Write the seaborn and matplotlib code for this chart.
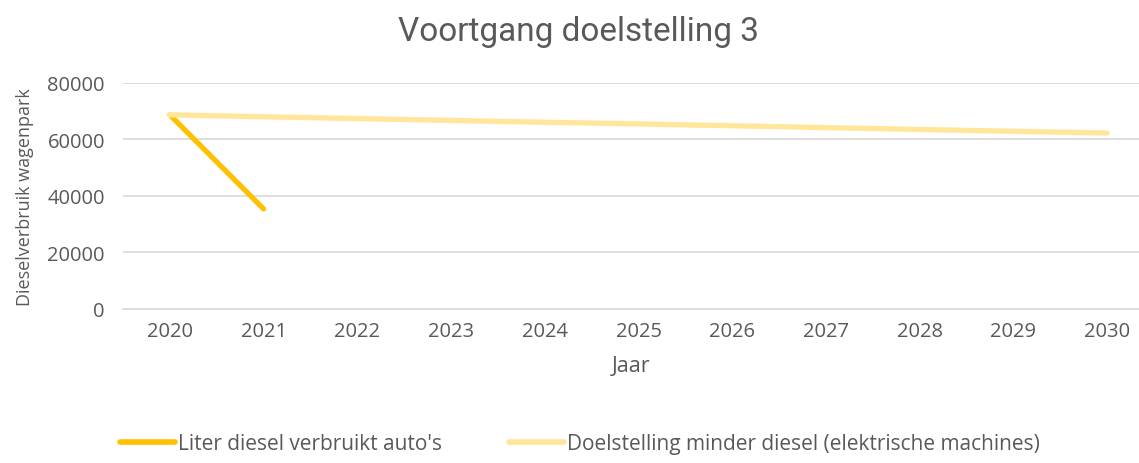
import pandas as pd
import matplotlib.pyplot as plt
import seaborn as sns

# data
years = [2020, 2021, 2022, 2023, 2024, 2025, 2026, 2027, 2028, 2029, 2030]
verbruik_years = [2020, 2021]
verbruik = [68700, 35400]
doel = [68700, 68050, 67400, 66750, 66100, 65500, 64850, 64200, 63550, 62900, 62300]

label_verbruik = "Liter diesel verbruikt auto's"
label_doel = "Doelstelling minder diesel (elektrische machines)"

df = pd.concat([
    pd.DataFrame({'jaar': verbruik_years, 'waarde': verbruik, 'reeks': label_verbruik}),
    pd.DataFrame({'jaar': years, 'waarde': doel, 'reeks': label_doel}),
])

sns.set_style('white')
plt.rcParams['font.family'] = ['Open Sans', 'DejaVu Sans']
grey = '#595959'

fig = plt.figure(figsize=(11.39, 4.64), dpi=100)
ax = fig.add_axes([0.108, 0.332, 0.892, 0.487])

sns.lineplot(data=df, x='jaar', y='waarde', hue='reeks', ax=ax,
             palette={label_verbruik: '#FFC000', label_doel: '#FFE699'},
             linewidth=3.8, legend=False, sort=False)
for line in ax.lines:
    line.set_solid_capstyle('round')

ax.set_xlim(2019.5, 2030.34)
ax.set_ylim(0, 80000)
ax.set_xticks(years)
ax.set_xticklabels([str(y) for y in years])
ax.set_yticks([0, 20000, 40000, 60000, 80000])
ax.yaxis.grid(True, color='#d9d9d9', linewidth=1.2)
ax.set_axisbelow(True)
for s in ['top', 'right', 'left']:
    ax.spines[s].set_visible(False)
ax.spines['bottom'].set_color('#d9d9d9')
ax.spines['bottom'].set_linewidth(1.2)
ax.tick_params(axis='both', length=0, labelsize=14.5, colors=grey, pad=9)
ax.tick_params(axis='y', pad=13)

ax.set_xlabel('Jaar', fontsize=15.5, color=grey, labelpad=10)
ax.set_ylabel('Dieselverbruik wagenpark', fontsize=13, color=grey, labelpad=10)

fig.suptitle('Voortgang doelstelling 3', x=0.508, y=0.965, fontsize=24,
             color=grey, family=['Roboto', 'DejaVu Sans'])

handles = [plt.Line2D([], [], color='#FFC000', lw=4, solid_capstyle='round'),
           plt.Line2D([], [], color='#FFE699', lw=4, solid_capstyle='round')]
fig.legend(handles, [label_verbruik, label_doel], loc='lower left',
           bbox_to_anchor=(0.089, -0.022), ncol=2, frameon=False, fontsize=15,
           labelcolor=grey, handlelength=2.65, handletextpad=0.15, columnspacing=3.2)

fig.savefig('out.png', dpi=100)
